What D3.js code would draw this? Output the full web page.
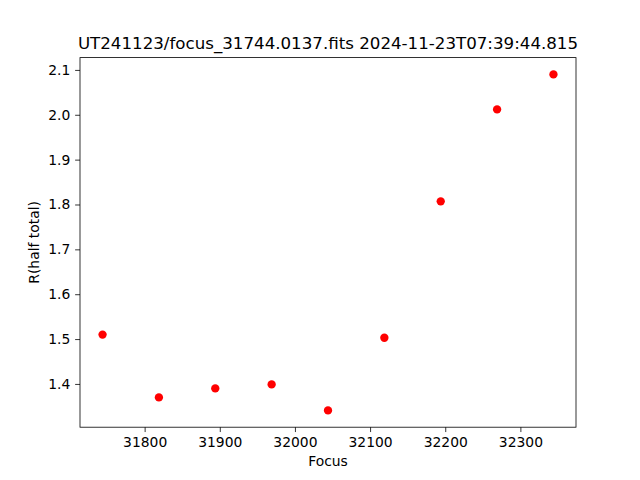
<!DOCTYPE html>
<html>
<head>
<meta charset="utf-8">
<script src="https://cdn.jsdelivr.net/npm/d3@7"></script>
<style>
html,body{margin:0;padding:0;background:#fff;}
text{font-family:"DejaVu Sans",sans-serif;}
</style>
</head>
<body>
<svg id="chart" width="640" height="480"></svg>
<script>
const titleText = "UT241123/focus_31744.0137.fits 2024-11-23T07:39:44.815";
const xLabel = "Focus";
const yLabel = "R(half total)";
const focusValues = [31744, 31819, 31894, 31969, 32044, 32119, 32194, 32269, 32344];
const radiusValues = [1.510, 1.370, 1.390, 1.399, 1.341, 1.503, 1.807, 2.012, 2.090];
const xTicks = [31800, 31900, 32000, 32100, 32200, 32300];
const yTicks = [1.4, 1.5, 1.6, 1.7, 1.8, 1.9, 2.0, 2.1];

(function () {
const W = 640, H = 480;
const pL = 80, pR = 576, pT = 57.6, pB = 427.2;
const svg = d3.select("#chart");
svg.append("rect").attr("width", W).attr("height", H).attr("fill", "#fff");

function padded(vals) {
  const [a, b] = d3.extent(vals);
  const m = (b - a) * 0.05;
  return [a - m, b + m];
}
const x = d3.scaleLinear().domain(padded(focusValues)).range([pL, pR]);
const y = d3.scaleLinear().domain(padded(radiusValues)).range([pB, pT]);

const fs = 13.89;
const tickLen = 4.86, tickPad = 4.86;

const xAxis = svg.append("g").attr("transform", `translate(0,${pB})`)
  .call(d3.axisBottom(x).tickValues(xTicks).tickFormat(d3.format("d")).tickSize(tickLen).tickPadding(tickPad));
const yAxis = svg.append("g").attr("transform", `translate(${pL},0)`)
  .call(d3.axisLeft(y).tickValues(yTicks).tickFormat(d3.format(".1f")).tickSize(tickLen).tickPadding(tickPad));
[xAxis, yAxis].forEach(g => {
  g.select(".domain").remove();
  g.selectAll(".tick line").attr("stroke", "#000").attr("stroke-width", 0.8);
  g.selectAll(".tick text").attr("fill", "#000").style("font-size", fs + "px").style("font-family", "DejaVu Sans");
});

svg.append("rect").attr("x", pL).attr("y", pT).attr("width", pR - pL).attr("height", pB - pT)
  .attr("fill", "none").attr("stroke", "#000").attr("stroke-width", 0.8);

svg.append("g").selectAll("circle").data(focusValues.map((f, i) => [f, radiusValues[i]]))
  .enter().append("circle")
  .attr("cx", d => x(d[0])).attr("cy", d => y(d[1])).attr("r", 4.17).attr("fill", "#ff0000");

svg.append("text").attr("x", (pL + pR) / 2).attr("y", 49.3).attr("text-anchor", "middle")
  .style("font-size", "16.67px").attr("fill", "#000").text(titleText);
svg.append("text").attr("x", (pL + pR) / 2).attr("y", 466).attr("text-anchor", "middle")
  .style("font-size", fs + "px").attr("fill", "#000").text(xLabel);
svg.append("text").attr("transform", `translate(39.3,${(pT + pB) / 2}) rotate(-90)`).attr("text-anchor", "middle")
  .style("font-size", fs + "px").attr("fill", "#000").text(yLabel);
})();
</script>
</body>
</html>
